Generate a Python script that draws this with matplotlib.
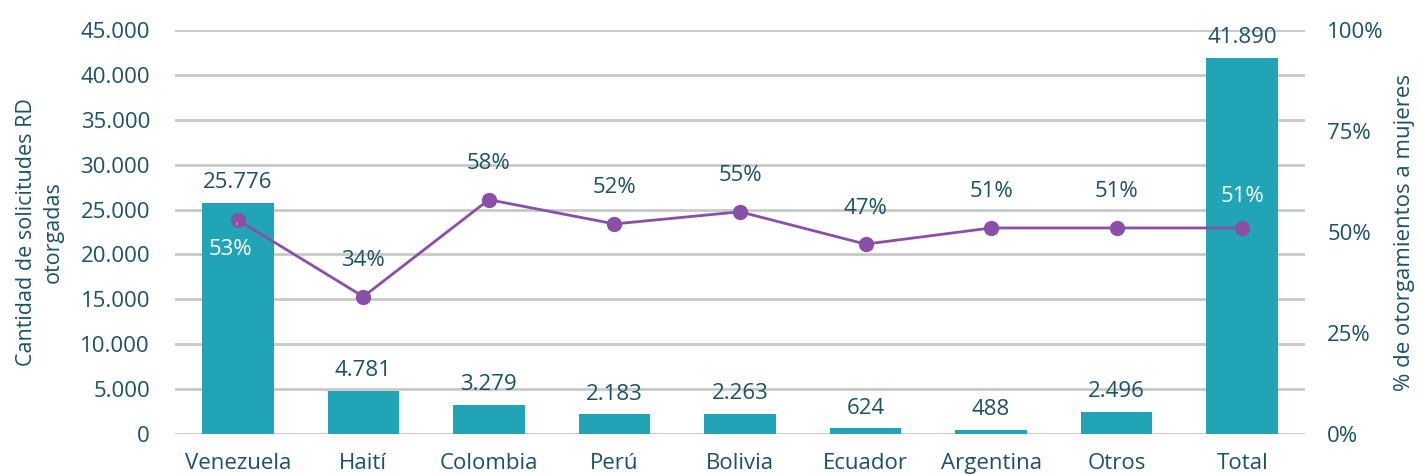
import matplotlib
matplotlib.use("Agg")
import matplotlib.pyplot as plt
from matplotlib.ticker import FuncFormatter, MultipleLocator

categories = ["Venezuela", "Haití", "Colombia", "Perú", "Bolivia", "Ecuador", "Argentina", "Otros", "Total"]
solicitudes = [25776, 4781, 3279, 2183, 2263, 624, 488, 2496, 41890]
pct_mujeres = [53, 34, 58, 52, 55, 47, 51, 51, 51]

BAR = "#21a5b6"
LINE = "#8a4fa6"
TXT = "#1c5264"
GRID = "#c9c9c9"

plt.rcParams['font.family'] = ['Open Sans', 'DejaVu Sans']
FS = 16

fig = plt.figure(figsize=(14.21, 4.74), dpi=100)
ax = fig.add_axes([175/1421, 40/474, 1130/1421, 404/474])
ax2 = ax.twinx()

x = list(range(len(categories)))
ax.bar(x, solicitudes, width=0.57, color=BAR, zorder=2)
ax.set_xlim(-0.5, len(categories) - 0.5)
ax.set_ylim(0, 45000)
ax.yaxis.set_major_locator(MultipleLocator(5000))
ax.yaxis.set_major_formatter(FuncFormatter(lambda v, p: f"{int(v):,}".replace(",", ".")))
ax.grid(axis='y', color=GRID, linewidth=2, zorder=0)
ax.set_axisbelow(True)
for s in ax.spines.values():
    s.set_visible(False)
for s in ax2.spines.values():
    s.set_visible(False)
ax.tick_params(axis='both', length=0, labelsize=FS, colors=TXT)
ax.tick_params(axis='y', pad=18)
ax.tick_params(axis='x', pad=14)
ax.set_xticks(x)
ax.set_xticklabels(categories)
ax.set_ylabel("Cantidad de solicitudes RD\notorgadas", fontsize=15.5, color=TXT,
              linespacing=1.4, va='center', ha='center')
ax.yaxis.set_label_coords((40 - 175) / 1130, 0.5)

ax2.plot(x, pct_mujeres, color=LINE, linewidth=2, marker='o', markersize=10, zorder=3)
ax2.set_ylim(0, 100)
ax2.yaxis.set_major_locator(MultipleLocator(25))
ax2.yaxis.set_major_formatter(FuncFormatter(lambda v, p: f"{int(v)}%"))
ax2.tick_params(axis='y', length=0, labelsize=FS, colors=TXT, pad=16)
ax2.set_ylabel("% de otorgamientos a mujeres", fontsize=FS, color=TXT, rotation=90,
               va='center', ha='center')
ax2.yaxis.set_label_coords((1405 - 175) / 1130, 0.5)

for i, v in enumerate(solicitudes):
    ax.annotate(f"{v:,}".replace(",", "."), (i, v), xytext=(0, 7), textcoords='offset points',
                ha='center', va='bottom', fontsize=FS, color=TXT)

for i, p in enumerate(pct_mujeres):
    if i == 0:
        ax2.annotate(f"{p}%", (i, p), xytext=(-5, -21), textcoords='offset points',
                     ha='center', va='center', fontsize=FS, color='white',
                     arrowprops=dict(arrowstyle='-', color='#aaaaaa', lw=1, shrinkA=8, shrinkB=2))
    elif i == len(pct_mujeres) - 1:
        ax2.annotate(f"{p}%", (i, p), xytext=(0, 23), textcoords='offset points',
                     ha='center', va='center', fontsize=FS, color='white')
    else:
        ax2.annotate(f"{p}%", (i, p), xytext=(0, 26), textcoords='offset points',
                     ha='center', va='center', fontsize=FS, color=TXT)

fig.savefig("out.png", dpi=100)
